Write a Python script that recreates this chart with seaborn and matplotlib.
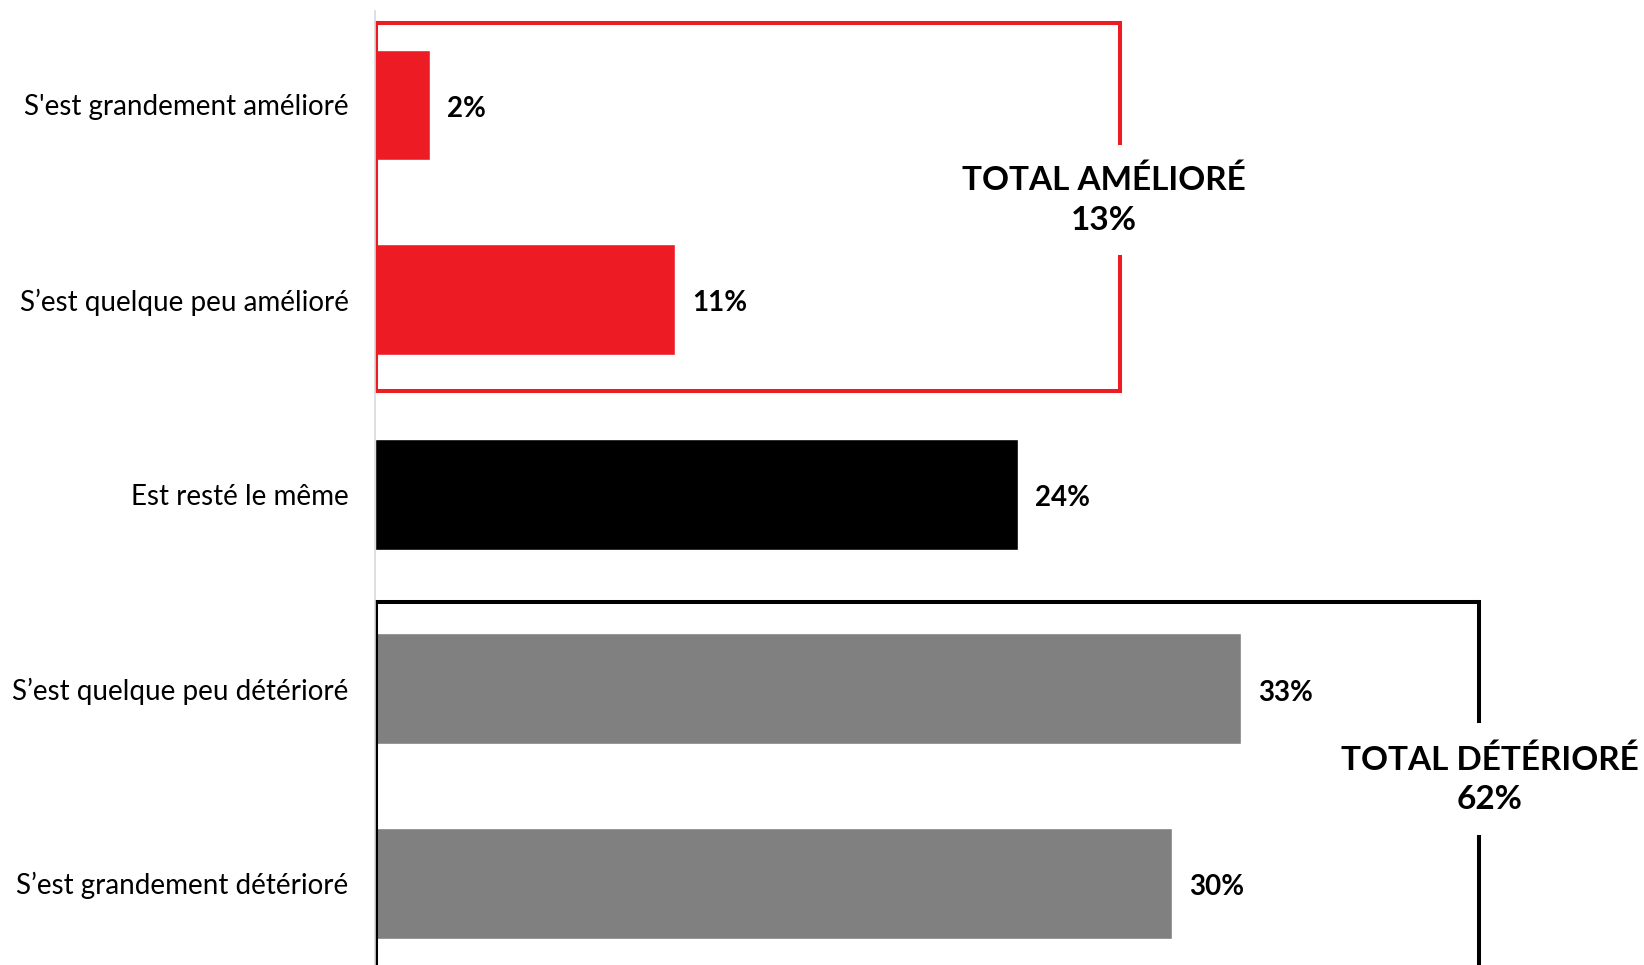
import numpy as np
import pandas as pd
import seaborn as sns
import matplotlib.pyplot as plt

categories = ["S'est grandement amélioré", "S\u2019est quelque peu amélioré", "Est resté le même",
              "S\u2019est quelque peu détérioré", "S\u2019est grandement détérioré"]
values = [2.07, 11.28, 24.17, 32.56, 29.96]
groups = ["ameliore", "ameliore", "meme", "deteriore", "deteriore"]
group_colors = {"ameliore": "#ED1C24", "meme": "#000000", "deteriore": "#808080"}
total_labels = ["TOTAL AMÉLIORÉ\n13%", "TOTAL DÉTÉRIORÉ\n62%"]

sns.set_theme(style="white")
plt.rcParams['font.family'] = ['Lato', 'DejaVu Sans']
plt.rcParams['text.color'] = 'black'
plt.rcParams['ytick.color'] = 'black'
plt.rcParams['ytick.labelcolor'] = 'black'

df = pd.DataFrame({"cat": categories, "val": values, "grp": groups})

fig = plt.figure(figsize=(16.44, 9.65), dpi=100)
ax = fig.add_axes([375 / 1644, 0.0, 1 - 375 / 1644, 1 - 11 / 965])

sns.barplot(data=df, x="val", y="cat", hue="grp", palette=group_colors,
            dodge=False, width=0.57, legend=False, ax=ax, saturation=1)

ax.set_xlim(0, 47.7)
ax.set_ylim(4.42, -0.483)
ax.set_xlabel("")
ax.set_ylabel("")
ax.set_xticks([])
for s in ["top", "right", "bottom"]:
    ax.spines[s].set_visible(False)
ax.spines["left"].set_color("#d9d9d9")
ax.spines["left"].set_linewidth(1.2)
ax.tick_params(axis="y", length=0, pad=19, labelsize=20, labelcolor="black")

# value labels
for i, v in enumerate(values):
    ax.text(v + 0.65, i + 0.02, f"{v:.0f}%", va="center", ha="left", fontsize=20,
            fontweight="bold", color="black")

# group boxes: (x_right, y_top, y_bottom, gap_top, gap_bottom, color, text_x)
boxes = [
    (28.0, -0.42, 1.47, 0.195, 0.781, "#ED1C24", 27.4),
    (41.5, 2.555, 4.47, 3.167, 3.763, "#000000", 41.9),
]
for (xr, yt, yb, gt, gb, col, tx), lab in zip(boxes, total_labels):
    kw = dict(color=col, lw=2.9, solid_capstyle="projecting", clip_on=True)
    ax.plot([0.05, xr], [yt, yt], **kw)
    ax.plot([0.05, xr], [yb, yb], **kw)
    ax.plot([0.05, 0.05], [yt, yb], **kw)
    ax.plot([xr, xr], [yt, gt], **kw)
    ax.plot([xr, xr], [gb, yb], **kw)
    ax.text(tx, (gt + gb) / 2, lab, ha="center", va="center", fontsize=24,
            fontweight="bold", linespacing=1.45, color="black", clip_on=False)

fig.savefig("out.png", dpi=100)
